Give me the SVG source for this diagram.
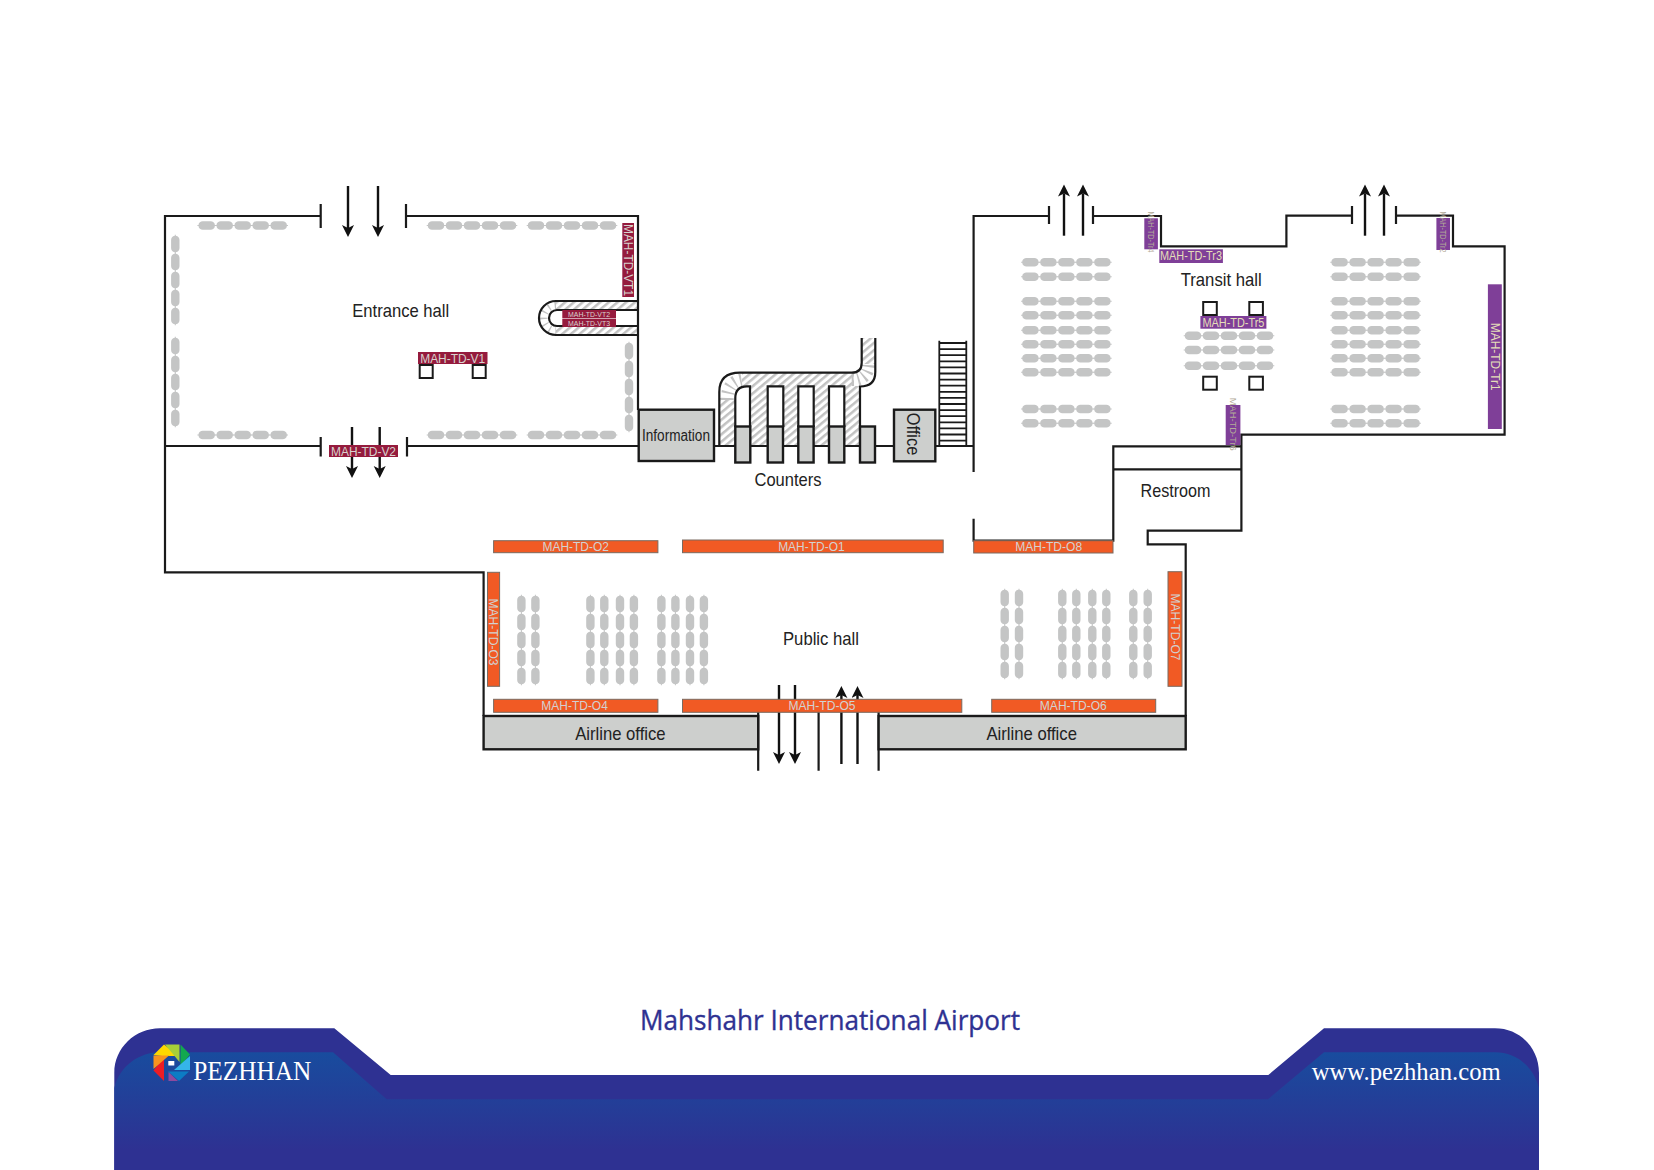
<svg xmlns="http://www.w3.org/2000/svg" width="1654" height="1170" viewBox="0 0 1654 1170">
<style>
text{font-family:"Liberation Sans",Arial,sans-serif}
.w{fill:none;stroke:#1a1a1a;stroke-width:2.2}
.box{fill:#cdcfcd;stroke:#1a1a1a;stroke-width:2.4}
.seat{fill:#c4c5c5;stroke:none}
.hall{font-size:19px;fill:#222;text-anchor:middle}
.lab{font-size:12px;text-anchor:middle}
.m{fill:#951b3d}.mt{fill:#d8d2ce}
.o{fill:#f15a24;stroke:#7a6a60;stroke-width:1}.ot{fill:#d2d2d2}
.p{fill:#7f3f98}.pt{fill:#e4deb8}
.tiny{font-size:9.5px;fill:#b3ab98}
.sq{fill:#fff;stroke:#1a1a1a;stroke-width:2}
.ar{stroke:#111;stroke-width:2.4;fill:none}
.radial{fill:none;stroke:#c2c2c2}
</style>
<defs>
<marker id="head" markerUnits="userSpaceOnUse" markerWidth="14" markerHeight="14" refX="3" refY="6" orient="auto"><path d="M0,0L12,6L0,12L3,6z" fill="#111"/></marker>
<pattern id="hF" width="5.6" height="5.6" patternUnits="userSpaceOnUse" patternTransform="rotate(-40)"><rect width="5.6" height="2.5" fill="#c2c2c2"/></pattern>
<pattern id="hB" width="5.6" height="5.6" patternUnits="userSpaceOnUse" patternTransform="rotate(50)"><rect width="2.5" height="5.6" fill="#c2c2c2"/></pattern>
<linearGradient id="fg" x1="0" y1="1052" x2="0" y2="1150" gradientUnits="userSpaceOnUse"><stop offset="0" stop-color="#184c9e"/><stop offset="1" stop-color="#2e3192"/></linearGradient>
<g id="pill"><path class="seat" d="M-9.3,-.5H-8.2C-8,-3 -6,-4.2 -4,-4.2H4C6,-4.2 8,-3 8.2,-.5H9.3V.5H8.2C8,3 6,4.2 4,4.2H-4C-6,4.2 -8,3 -8.2,.5H-9.3z"/></g>
<g id="r5"><use href="#pill"/><use href="#pill" x="18"/><use href="#pill" x="36"/><use href="#pill" x="54"/><use href="#pill" x="72"/></g>
</defs>
<rect width="1654" height="1170" fill="#fff"/>

<g id="seats-entrance">
<use href="#r5" x="206.7" y="225.5"/><use href="#r5" x="436" y="225.5"/><use href="#r5" x="536" y="225.5"/>
<use href="#r5" x="206.7" y="435"/><use href="#r5" x="436" y="435"/><use href="#r5" x="536" y="435"/>
<use href="#r5" transform="translate(175.3,244) rotate(90)"/><use href="#r5" transform="translate(175.3,346) rotate(90)"/><use href="#r5" transform="translate(629,351) rotate(90)"/>
</g>
<g id="seats-transit">
<use href="#r5" x="1030.4" y="262.3"/><use href="#r5" x="1030.4" y="276.7"/><use href="#r5" x="1030.4" y="301.3"/><use href="#r5" x="1030.4" y="315.3"/><use href="#r5" x="1030.4" y="330.3"/><use href="#r5" x="1030.4" y="344.3"/><use href="#r5" x="1030.4" y="358.3"/><use href="#r5" x="1030.4" y="372.3"/><use href="#r5" x="1030.4" y="409"/><use href="#r5" x="1030.4" y="423.3"/>
<use href="#r5" x="1339.6" y="262.3"/><use href="#r5" x="1339.6" y="276.7"/><use href="#r5" x="1339.6" y="301.3"/><use href="#r5" x="1339.6" y="315.3"/><use href="#r5" x="1339.6" y="330.3"/><use href="#r5" x="1339.6" y="344.3"/><use href="#r5" x="1339.6" y="358.3"/><use href="#r5" x="1339.6" y="372.3"/><use href="#r5" x="1339.6" y="409"/><use href="#r5" x="1339.6" y="423.3"/>
<use href="#r5" x="1193" y="335.7"/><use href="#r5" x="1193" y="350"/><use href="#r5" x="1193" y="365.7"/>
</g>
<g id="seats-public">
<use href="#r5" transform="translate(521.4,604) rotate(90)"/><use href="#r5" transform="translate(535.4,604) rotate(90)"/>
<use href="#r5" transform="translate(590.4,604) rotate(90)"/><use href="#r5" transform="translate(604.3,604) rotate(90)"/><use href="#r5" transform="translate(620,604) rotate(90)"/><use href="#r5" transform="translate(633.9,604) rotate(90)"/>
<use href="#r5" transform="translate(661.4,604) rotate(90)"/><use href="#r5" transform="translate(675.4,604) rotate(90)"/><use href="#r5" transform="translate(690,604) rotate(90)"/><use href="#r5" transform="translate(703.9,604) rotate(90)"/>
<use href="#r5" transform="translate(1004.7,598) rotate(90)"/><use href="#r5" transform="translate(1019,598) rotate(90)"/>
<use href="#r5" transform="translate(1062.3,598) rotate(90)"/><use href="#r5" transform="translate(1076.3,598) rotate(90)"/><use href="#r5" transform="translate(1092.3,598) rotate(90)"/><use href="#r5" transform="translate(1106.3,598) rotate(90)"/>
<use href="#r5" transform="translate(1133.3,598) rotate(90)"/><use href="#r5" transform="translate(1147.7,598) rotate(90)"/>
</g>

<g id="ramp">
<rect x="556" y="302" width="82" height="8" fill="url(#hB)"/><rect x="556" y="326.5" width="82" height="8" fill="url(#hB)"/>
<path class="radial" d="M556,305.5A12.5,12.5 0 0 0 556,330.5" stroke-width="8" stroke-dasharray="1.4 5"/>
<path class="w" d="M638,301H556A17,17 0 0 0 556,335H638M638,310H557A8,8 0 0 0 557,326H638"/>
</g>

<g id="conveyor">
<rect x="720" y="398" width="15.3" height="48" fill="url(#hF)"/><rect x="750" y="386" width="17.7" height="60" fill="url(#hF)"/><rect x="783.3" y="386" width="15" height="60" fill="url(#hF)"/><rect x="813.7" y="386" width="15.3" height="60" fill="url(#hF)"/><rect x="844.3" y="386" width="15.7" height="60" fill="url(#hF)"/>
<rect x="742" y="373" width="112" height="13.5" fill="url(#hB)"/><rect x="862" y="338" width="13" height="26" fill="url(#hF)"/>
<path class="radial" d="M727.3,400Q727.3,380 745,379.5" stroke-width="13" stroke-dasharray="1.8 4.6"/>
<path class="radial" d="M851.7,379.6Q868.5,379.6 868.5,363" stroke-width="13" stroke-dasharray="1.8 4"/>
<path class="w" d="M719.3,446V392Q719.3,372.7 740,372.7H851.7Q861.7,372.7 861.7,362.7V338M875.3,338V372Q875.3,386.5 860,386.5V427"/>
<path class="w" style="fill:#fff" d="M735.3,427V398Q735.3,386.3 747,386.3H750V427"/>
<path class="w" d="M767.7,427V386.3H783.3V427M798.3,427V386.3H813.7V427M829,427V386.3H844.3V427"/>
</g>

<g id="stairs">
<path class="w" style="stroke-width:1.8" d="M939.3,340.7V446M966.3,340.7V446M939.3,343H966.3M939.3,349.1H966.3M939.3,355.2H966.3M939.3,361.3H966.3M939.3,367.4H966.3M939.3,373.5H966.3M939.3,379.6H966.3M939.3,385.7H966.3M939.3,391.8H966.3M939.3,397.9H966.3M939.3,404H966.3M939.3,410.1H966.3M939.3,416.2H966.3M939.3,422.3H966.3M939.3,428.4H966.3M939.3,434.5H966.3M939.3,440.6H966.3"/>
</g>

<g id="walls">
<path class="w" d="M320.7,216H165V572.3H483.6V716M320.7,204V228M406,204V228M406,216H638V410M165,446H320.7M320.7,437V456.5M407,437V456.5M407,446H638"/>
<path class="w" d="M714,446H973.6M973.6,472V216H1049M1049,206V224M1093,206V224M1093,216H1161V246.3H1286.4V215.7H1352M1352,206V224M1396,206V224M1396,215.7H1453V246.3H1504.6V434.7H1241.4V530.7H1147.7V544.3H1185.7V716M973.6,518.7V540.7H1113.3V446.3H1241.4M1113.3,469.3H1241.4"/>
<path class="w" d="M758.2,711.7V770.7M818.6,711.7V770.7M878.6,711.7V770.7"/>
</g>

<g id="connectors">
<line class="ar" x1="348" y1="186" x2="348" y2="228" marker-end="url(#head)"/>
<line class="ar" x1="378" y1="186" x2="378" y2="228" marker-end="url(#head)"/>
<line class="ar" x1="352" y1="427" x2="352" y2="469" marker-end="url(#head)"/>
<line class="ar" x1="379.7" y1="427" x2="379.7" y2="469" marker-end="url(#head)"/>
<line class="ar" x1="1064" y1="235.7" x2="1064" y2="193.5" marker-end="url(#head)"/>
<line class="ar" x1="1083" y1="235.7" x2="1083" y2="193.5" marker-end="url(#head)"/>
<line class="ar" x1="1365" y1="235.7" x2="1365" y2="193.5" marker-end="url(#head)"/>
<line class="ar" x1="1384" y1="235.7" x2="1384" y2="193.5" marker-end="url(#head)"/>
<line class="ar" x1="779" y1="685" x2="779" y2="755" marker-end="url(#head)"/>
<line class="ar" x1="795" y1="685" x2="795" y2="755" marker-end="url(#head)"/>
<line class="ar" x1="841.4" y1="764" x2="841.4" y2="695" marker-end="url(#head)"/>
<line class="ar" x1="857.5" y1="764" x2="857.5" y2="695" marker-end="url(#head)"/>
</g>

<g id="info"><rect class="box" x="638.7" y="409.7" width="75.3" height="51.3"/><text class="hall" x="676" y="440.5" style="font-size:16px" textLength="68" lengthAdjust="spacingAndGlyphs">Information</text></g>
<g id="counters">
<rect class="box" x="735.3" y="426.5" width="15" height="36"/><rect class="box" x="767.7" y="426.5" width="15.3" height="36"/><rect class="box" x="798.3" y="426.5" width="15.3" height="36"/><rect class="box" x="829" y="426.5" width="15.3" height="36"/><rect class="box" x="860" y="426.5" width="15" height="36"/>
<text class="hall" x="788" y="485.7" textLength="67" lengthAdjust="spacingAndGlyphs">Counters</text>
</g>
<g id="office"><rect class="box" x="894" y="409.7" width="41.3" height="51.6"/><text class="hall" transform="translate(906.5,434) rotate(90)" textLength="42.5" lengthAdjust="spacingAndGlyphs">Office</text></g>
<g id="airline1"><rect class="box" x="483.6" y="716" width="274.6" height="33.3"/><text class="hall" x="620.4" y="740" textLength="90.5" lengthAdjust="spacingAndGlyphs">Airline office</text></g>
<g id="airline2"><rect class="box" x="878.6" y="716" width="307.1" height="33.3"/><text class="hall" x="1031.7" y="740" textLength="90.5" lengthAdjust="spacingAndGlyphs">Airline office</text></g>

<g id="hall-labels">
<text class="hall" x="400.7" y="317" textLength="97" lengthAdjust="spacingAndGlyphs">Entrance hall</text>
<text class="hall" x="1221.2" y="286" textLength="81" lengthAdjust="spacingAndGlyphs">Transit hall</text>
<text class="hall" x="821" y="645" textLength="76" lengthAdjust="spacingAndGlyphs">Public hall</text>
<text class="hall" x="1175.5" y="497.3" textLength="70" lengthAdjust="spacingAndGlyphs">Restroom</text>
</g>

<g id="squares">
<rect class="sq" x="419.7" y="365" width="13" height="13"/><rect class="sq" x="472.7" y="365" width="13" height="13"/>
<rect class="sq" x="1203.2" y="302" width="13.6" height="13"/><rect class="sq" x="1249.3" y="302" width="13.6" height="13"/>
<rect class="sq" x="1203.2" y="376.7" width="13.6" height="13"/><rect class="sq" x="1249.3" y="376.7" width="13.6" height="13"/>
</g>

<g id="MAH-TD-VT1"><rect class="m" x="622.3" y="223" width="11.7" height="74"/><text class="lab mt" transform="translate(624,260) rotate(90)" textLength="72" lengthAdjust="spacingAndGlyphs">MAH-TD-VT1</text></g>
<g id="MAH-TD-VT2"><rect class="m" x="562.3" y="310" width="53.7" height="8"/><text class="lab mt" x="589" y="317" style="font-size:7.5px" textLength="42" lengthAdjust="spacingAndGlyphs">MAH-TD-VT2</text></g>
<g id="MAH-TD-VT3"><rect class="m" x="562.3" y="318.6" width="53.7" height="8.4"/><text class="lab mt" x="589" y="325.7" style="font-size:7.5px" textLength="42" lengthAdjust="spacingAndGlyphs">MAH-TD-VT3</text></g>
<g id="MAH-TD-V1"><rect class="m" x="418" y="352" width="69.5" height="12"/><text class="lab mt" x="452.7" y="362.5" textLength="65" lengthAdjust="spacingAndGlyphs">MAH-TD-V1</text></g>
<g id="MAH-TD-V2"><rect class="m" x="329" y="445" width="69" height="12"/><text class="lab mt" x="363.5" y="455.5" textLength="65" lengthAdjust="spacingAndGlyphs">MAH-TD-V2</text></g>

<g id="MAH-TD-O1"><rect class="o" x="682.5" y="540" width="260.7" height="12.7"/><text class="lab ot" x="811.4" y="550.6" textLength="66.5" lengthAdjust="spacingAndGlyphs">MAH-TD-O1</text></g>
<g id="MAH-TD-O2"><rect class="o" x="493.6" y="540.7" width="164.3" height="12"/><text class="lab ot" x="575.7" y="550.9" textLength="66.5" lengthAdjust="spacingAndGlyphs">MAH-TD-O2</text></g>
<g id="MAH-TD-O3"><rect class="o" x="487.5" y="572.3" width="12.1" height="114"/><text class="lab ot" transform="translate(489.3,632) rotate(90)" textLength="67" lengthAdjust="spacingAndGlyphs">MAH-TD-O3</text></g>
<g id="MAH-TD-O4"><rect class="o" x="493.6" y="699.3" width="164.3" height="13"/><text class="lab ot" x="574.6" y="710" textLength="66.5" lengthAdjust="spacingAndGlyphs">MAH-TD-O4</text></g>
<g id="MAH-TD-O5"><rect class="o" x="682.5" y="699.3" width="279.3" height="13"/><text class="lab ot" x="822" y="710" textLength="67" lengthAdjust="spacingAndGlyphs">MAH-TD-O5</text></g>
<g id="MAH-TD-O6"><rect class="o" x="991.7" y="699.3" width="164" height="13"/><text class="lab ot" x="1073.3" y="710" textLength="67" lengthAdjust="spacingAndGlyphs">MAH-TD-O6</text></g>
<g id="MAH-TD-O7"><rect class="o" x="1168" y="571.7" width="14" height="114.6"/><text class="lab ot" transform="translate(1170.8,627) rotate(90)" textLength="67" lengthAdjust="spacingAndGlyphs">MAH-TD-O7</text></g>
<g id="MAH-TD-O8"><rect class="o" x="973.7" y="540.7" width="139.3" height="12.3"/><text class="lab ot" x="1048.7" y="551" textLength="67" lengthAdjust="spacingAndGlyphs">MAH-TD-O8</text></g>

<g id="MAH-TD-Tr1"><rect class="p" x="1487.9" y="284.3" width="13.9" height="144.7"/><text class="lab pt" transform="translate(1490.6,356.7) rotate(90)" textLength="68" lengthAdjust="spacingAndGlyphs">MAH-TD-Tr1</text></g>
<g id="MAH-TD-Tr2"><rect class="p" x="1436.4" y="218" width="13.6" height="32"/><text class="lab tiny" transform="translate(1440,232) rotate(90)" textLength="41" lengthAdjust="spacingAndGlyphs">MAH-TD-Tr2</text></g>
<g id="MAH-TD-Tr3"><rect class="p" x="1159.3" y="249.3" width="63.6" height="13.7"/><text class="lab pt" x="1191" y="260.4" textLength="62" lengthAdjust="spacingAndGlyphs">MAH-TD-Tr3</text></g>
<g id="MAH-TD-Tr4"><rect class="p" x="1144.3" y="218.3" width="13.6" height="31"/><text class="lab tiny" transform="translate(1147.8,232) rotate(90)" textLength="41" lengthAdjust="spacingAndGlyphs">MAH-TD-Tr4</text></g>
<g id="MAH-TD-Tr5"><rect class="p" x="1200.4" y="316" width="66" height="12.7"/><text class="lab pt" x="1233.4" y="326.6" textLength="62" lengthAdjust="spacingAndGlyphs">MAH-TD-Tr5</text></g>
<g id="MAH-TD-Tr6"><rect class="p" x="1225.7" y="405" width="14.7" height="40"/><text class="lab tiny" transform="translate(1229.8,424.2) rotate(90)" textLength="53" lengthAdjust="spacingAndGlyphs">MAH-TD-Tr6</text></g>

<g id="footer">
<path fill="#2e3192" d="M114.3,1170V1073C114.3,1048 135,1028.3 160,1028.3H334.3L390.7,1075H1268.3L1324,1028.3H1495C1520,1028.3 1539,1048 1539,1073V1170z"/>
<path fill="url(#fg)" d="M114.3,1170V1088C120,1065 140,1052.3 160,1052.3H333L386.7,1099.3H1268L1324,1052.3H1495C1515,1052.3 1533,1065 1539,1088V1170z"/>
<text x="830" y="1030" text-anchor="middle" fill="#2e3192" stroke="#2e3192" stroke-width=".35" style="font-family:'Open Sans','Noto Sans',sans-serif;font-size:27px" textLength="380" lengthAdjust="spacingAndGlyphs">Mahshahr International Airport</text>
<text x="193.3" y="1079.8" fill="#fff" style="font-family:'Liberation Serif',serif;font-size:28px" textLength="118" lengthAdjust="spacingAndGlyphs">PEZHHAN</text>
<text x="1311.7" y="1080" fill="#fff" style="font-family:'Liberation Serif',serif;font-size:26px" textLength="189" lengthAdjust="spacingAndGlyphs">www.pezhhan.com</text>
<g id="logo">
<path fill="#fdd800" d="M164,1044.5L179,1056H162L153.5,1055z"/>
<path fill="#a8cf38" d="M165,1044.5H179.5V1062z"/>
<path fill="#12a84f" d="M180.5,1044.5L190,1054.5L180.5,1066z"/>
<path fill="#35b5ea" d="M190,1056V1070H174z"/>
<path fill="#0c7cc4" d="M189,1071.5L179,1081L168,1071.5z"/>
<path fill="#8e4a9e" d="M168.5,1072L178,1081H168.5z"/>
<path fill="#ed1c24" d="M153.5,1070.5L164,1057V1081z"/>
<path fill="#f7941e" d="M153.5,1055.5H169L153.5,1069z"/>
<rect x="168.3" y="1061" width="6" height="4.5" fill="#fff"/>
</g>
</g>
</svg>
